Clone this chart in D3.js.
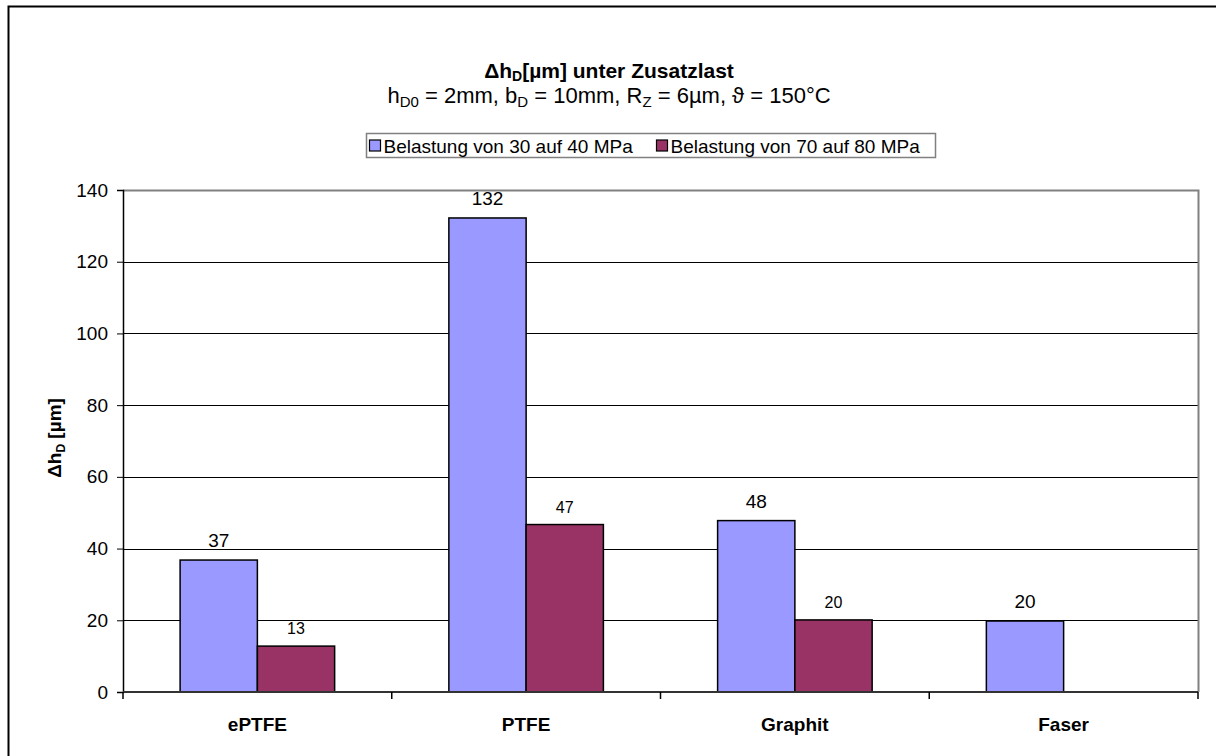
<!DOCTYPE html>
<html>
<head>
<meta charset="utf-8">
<script src="https://cdn.jsdelivr.net/npm/d3@7"></script>
<style>
  body { margin: 0; background: #fff; }
  text { font-family: Arial, "Liberation Sans", sans-serif; fill: #000; }
</style>
</head>
<body>
<div id="chart"></div>
<script>
// chart data
var categories = ['ePTFE', 'PTFE', 'Graphit', 'Faser'];
var seriesNames = ['Belastung von 30 auf 40 MPa', 'Belastung von 70 auf 80 MPa'];
var series30_40 = [36.8, 132.2, 47.8, 19.8];
var series70_80 = [12.8, 46.7, 20.1, null];
var yTicks = [0, 20, 40, 60, 80, 100, 120, 140];
var colors = ['#9999ff', '#993366'];

var width = 1216, height = 756;
var margin = {left: 123, right: 18, top: 190, bottom: 64};
var font = 'Arial, "Liberation Sans", sans-serif';

var svg = d3.select('#chart').append('svg')
    .attr('width', width)
    .attr('height', height);

// outer chart frame (runs off right and bottom edge)
svg.append('rect')
    .attr('x', 8.5).attr('y', 6.5)
    .attr('width', width + 10).attr('height', height + 10)
    .attr('fill', 'none').attr('stroke', '#000').attr('stroke-width', 2);

var x = d3.scaleBand().domain(categories)
    .range([margin.left, width - margin.right]);
var y = d3.scaleLinear().domain([0, 140])
    .range([height - margin.bottom, margin.top]);

var barW = x.bandwidth() * 0.2875;

// grid
svg.append('g').selectAll('line').data(yTicks.slice(1, -1)).enter()
  .append('line')
    .attr('x1', margin.left).attr('x2', width - margin.right)
    .attr('y1', function(d) { return Math.round(y(d)) + 0.5; })
    .attr('y2', function(d) { return Math.round(y(d)) + 0.5; })
    .attr('stroke', '#000').attr('stroke-width', 1);

// plot border (top and right, gray)
svg.append('path')
    .attr('d', 'M' + margin.left + ',' + (y(140) + 0.5) + 'H' + (width - margin.right + 0.5) + 'V' + y(0))
    .attr('fill', 'none').attr('stroke', '#808080').attr('stroke-width', 2);

// bars
var data = [series30_40, series70_80];
data.forEach(function(vals, si) {
  var g = svg.append('g');
  var pts = categories.map(function(c, i) { return {cat: c, v: vals[i]}; })
      .filter(function(d) { return d.v != null; });
  g.selectAll('rect').data(pts).enter()
    .append('rect')
      .attr('x', function(d) { return x(d.cat) + x.bandwidth() / 2 - barW + si * barW; })
      .attr('y', function(d) { return y(d.v); })
      .attr('width', barW)
      .attr('height', function(d) { return y(0) - y(d.v); })
      .attr('fill', colors[si])
      .attr('stroke', '#000').attr('stroke-width', 1.5);

  g.selectAll('text').data(pts).enter()
    .append('text')
      .attr('x', function(d) { return x(d.cat) + x.bandwidth() / 2 - barW / 2 + si * barW; })
      .attr('y', function(d) { return y(d.v) - (si === 0 ? 13 : 12); })
      .attr('text-anchor', 'middle')
      .attr('font-size', si === 0 ? '19px' : '16px')
      .text(function(d) { return Math.round(d.v); });
});

// y axis
var yAxis = svg.append('g')
    .attr('transform', 'translate(' + margin.left + ',0)')
    .call(d3.axisLeft(y).tickValues(yTicks).tickSize(6).tickPadding(9));
yAxis.select('.domain').attr('stroke', '#000').attr('stroke-width', 1.5);
yAxis.selectAll('.tick line').attr('stroke', '#000');
yAxis.selectAll('.tick text').attr('font-size', '19px')
    .style('font-family', font);

// x axis baseline + ticks at category boundaries
var xg = svg.append('g');
xg.append('line')
    .attr('x1', margin.left).attr('x2', width - margin.right)
    .attr('y1', y(0)).attr('y2', y(0))
    .attr('stroke', '#333').attr('stroke-width', 2);
var bounds = categories.map(function(c) { return x(c); }).concat([x.range()[1]]);
xg.selectAll('.xt').data(bounds).enter().append('line')
    .attr('x1', function(d) { return d; }).attr('x2', function(d) { return d; })
    .attr('y1', y(0)).attr('y2', y(0) + 7)
    .attr('stroke', '#000').attr('stroke-width', 1.5);
xg.selectAll('.xl').data(categories).enter().append('text')
    .attr('x', function(d) { return x(d) + x.bandwidth() / 2; })
    .attr('y', y(0) + 39)
    .attr('text-anchor', 'middle')
    .attr('font-size', '19px').attr('font-weight', 'bold')
    .text(function(d) { return d; });

// y axis title
var yt = svg.append('text')
    .attr('transform', 'translate(61,' + (y(70) - 3) + ') rotate(-90)')
    .attr('text-anchor', 'middle')
    .attr('font-size', '19px').attr('font-weight', 'bold');
yt.append('tspan').text('\u0394h');
yt.append('tspan').attr('font-size', '12px').attr('dy', 4).text('D');
yt.append('tspan').attr('dy', -4).text(' [\u00b5m]');

// title
var t1 = svg.append('text')
    .attr('x', 609).attr('y', 78)
    .attr('text-anchor', 'middle')
    .attr('font-size', '21px').attr('font-weight', 'bold');
t1.append('tspan').text('\u0394h');
t1.append('tspan').attr('font-size', '14px').attr('dy', 3).text('D');
t1.append('tspan').attr('dy', -3).text('[\u00b5m] unter Zusatzlast');

var t2 = svg.append('text')
    .attr('x', 609).attr('y', 103)
    .attr('text-anchor', 'middle')
    .attr('font-size', '22px');
t2.append('tspan').text('h');
t2.append('tspan').attr('font-size', '15px').attr('dy', 4).text('D0');
t2.append('tspan').attr('dy', -4).text(' = 2mm, b');
t2.append('tspan').attr('font-size', '15px').attr('dy', 4).text('D');
t2.append('tspan').attr('dy', -4).text(' = 10mm, R');
t2.append('tspan').attr('font-size', '15px').attr('dy', 4).text('Z');
t2.append('tspan').attr('dy', -4).text(' = 6\u00b5m, \u03d1 = 150\u00b0C');

// legend
var legend = svg.append('g');
var legBox = {x: 366.5, y: 133.5, w: 569, h: 24};
legend.append('rect')
    .attr('x', legBox.x).attr('y', legBox.y).attr('width', legBox.w).attr('height', legBox.h)
    .attr('fill', '#fff').attr('stroke', '#808080').attr('stroke-width', 1.5);
var legX = [legBox.x + 3, legBox.x + 290];
seriesNames.forEach(function(name, i) {
  legend.append('rect')
      .attr('x', legX[i]).attr('y', 140).attr('width', 11).attr('height', 11)
      .attr('fill', colors[i]).attr('stroke', '#000').attr('stroke-width', 1.2);
  legend.append('text')
      .attr('x', legX[i] + 14).attr('y', 152.5)
      .attr('font-size', '19px')
      .text(name);
});
</script>
</body>
</html>
